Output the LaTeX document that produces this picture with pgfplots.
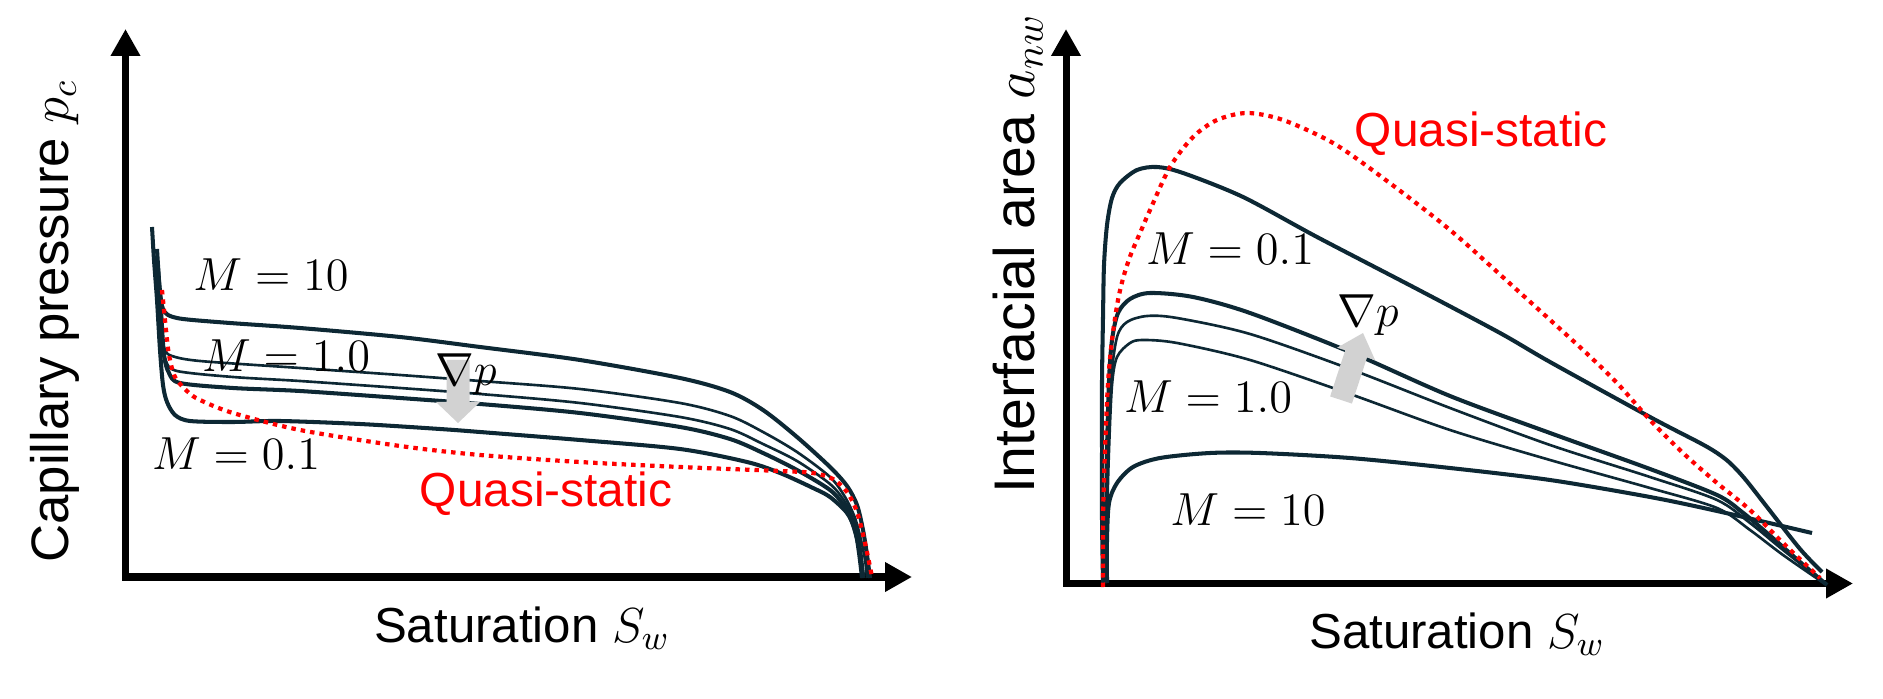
\RequirePackage{fix-cm}
\documentclass[border=0pt]{standalone}
\usepackage{fontspec}
\setmainfont{Liberation Sans}
\usepackage{pgfplots}
\pgfplotsset{compat=1.18}
\usetikzlibrary{arrows.meta}
\definecolor{navy}{RGB}{13,40,52}
\definecolor{arrowgray}{RGB}{210,210,210}
\newcommand{\xlfont}{\fontsize{14}{16}\selectfont}
\newcommand{\ylfontL}{\fontsize{15}{18}\selectfont}
\newcommand{\ylfontR}{\fontsize{16.3}{19}\selectfont}
\newcommand{\qsfont}{\fontsize{13.6}{16}\selectfont}
\newcommand{\mfont}{\fontsize{13.2}{15}\selectfont}
\pgfplotsset{
  panel/.style={scale only axis, hide axis, y dir=reverse, clip=false, anchor=south west},
  thickc/.style={navy, line width=1.15pt, smooth, tension=0.5, no marks, line join=round},
  thinc/.style={navy, line width=0.75pt, smooth, tension=0.5, no marks, line join=round},
  qs/.style={red, line width=1.2pt, dash pattern=on 0.045cm off 0.05cm, smooth, tension=0.5, no marks}
}
\tikzset{axarrow/.style={line width=2pt, line join=miter, {Triangle[width=0.28cm,length=0.27cm]}-{Triangle[width=0.28cm,length=0.27cm]}}}
\begin{document}
\begin{tikzpicture}
\useasboundingbox (0,0) rectangle (18.83cm,6.99cm);
% ---------------- Left panel: capillary pressure ----------------
\begin{axis}[panel, at={(1.255cm,1.22cm)}, width=7.865cm, height=5.48cm,
  xmin=125.5, xmax=912, ymin=29, ymax=577]
\draw[axarrow] (axis cs:125.5,29) -- (axis cs:125.5,577) -- (axis cs:912,577);
% M = 10
\addplot[thickc] coordinates {(157,249) (159,280) (161,300) (163,309) (168,315) (183,319) (230,323) (300,328) (400,337) (480,347) (580,360) (680,378) (730,392) (763,410) (797,437) (830,467) (847,486) (857,505) (863,530) (867,555) (870,578)};
\addplot[thinc] coordinates {(156,256) (159,300) (162,335) (165,350) (172,356) (200,361) (300,368) (400,375) (480,381) (580,389) (680,403) (730,416) (763,432) (797,452) (830,477) (845,497) (855,518) (861,540) (865,560) (867,578)};
\addplot[thinc] coordinates {(157,262) (160,300) (163,340) (166,361) (177,371) (233,377) (300,381) (400,388) (480,394) (580,403) (680,417) (730,429) (763,444) (797,461) (830,484) (845,502) (854,522) (860,545) (864,578)};
\addplot[thickc] coordinates {(158,268) (161,310) (164,355) (169,373) (180,383) (233,388) (300,391) (400,398) (480,404) (580,413) (680,427) (730,439) (763,453) (797,470) (830,490) (845,507) (853,525) (859,548) (863,578)};
% M = 0.1
\addplot[thickc] coordinates {(152,227) (154,260) (157,300) (160,350) (163,385) (167,402) (175,415) (190,421) (233,422) (280,421) (360,424) (440,429) (480,432) (580,440) (680,449) (747,462) (780,473) (813,488) (830,497) (847,513) (855,530) (859,553) (862,578)};
% quasi-static
\addplot[qs] coordinates {(162,290) (164,310) (166,330) (169,355) (175,377) (188,392) (200,400) (233,413) (300,430) (400,446) (480,455) (580,462) (680,467) (780,471) (813,473) (833,479) (847,492) (857,512) (865,543) (872,577)};
\fill[arrowgray] (axis cs:446.5,360) -- (axis cs:469.5,360) -- (axis cs:469.5,402) -- (axis cs:480,402) -- (axis cs:458,423) -- (axis cs:436,402) -- (axis cs:446.5,402) -- cycle;
\node[anchor=base, font=\mfont] at (axis cs:271,290.7) {$M = 10$};
\node[anchor=base, font=\mfont] at (axis cs:286,372) {$M = 1.0$};
\node[anchor=base, font=\mfont] at (axis cs:236,469) {$M = 0.1$};
\node[anchor=base, font=\mfont] at (axis cs:466,386) {$\nabla p$};
\node[anchor=base, font=\qsfont, text=red] at (axis cs:546,506) {Quasi-static};
\node[anchor=base, font=\xlfont] at (axis cs:522,642) {Saturation $S_w$};
\node[anchor=base, rotate=90, font=\ylfontL] at (axis cs:68,321) {Capillary pressure $p_c$};
\end{axis}
% ---------------- Right panel: interfacial area ----------------
\begin{axis}[panel, at={(10.66cm,1.155cm)}, width=7.87cm, height=5.545cm,
  xmin=1066, xmax=1853, ymin=29, ymax=583.5]
\draw[axarrow] (axis cs:1066,29) -- (axis cs:1066,583.5) -- (axis cs:1853,583.5);
% M = 0.1
\addplot[thickc] coordinates {(1103,583) (1102,520) (1102,450) (1102,380) (1103,317) (1104,265) (1107,225) (1112,198) (1120,183) (1137,170) (1157,167) (1183,173) (1243,197) (1317,237) (1417,289) (1500,333) (1550,362) (1650,417) (1700,443) (1717,453) (1730,463) (1745,479) (1767,507) (1800,549) (1822,572)};
\addplot[thickc] coordinates {(1105,583) (1106,520) (1107,450) (1109,380) (1112,340) (1118,313) (1130,299) (1150,293) (1193,297) (1250,313) (1350,352) (1450,396) (1550,433) (1650,469) (1717,495) (1742,512) (1767,533) (1800,562) (1827,585)};
\addplot[thinc] coordinates {(1106,583) (1107,520) (1108,450) (1111,380) (1117,337) (1127,322) (1147,316) (1177,318) (1250,334) (1350,369) (1450,408) (1550,445) (1650,477) (1717,500) (1750,523) (1783,550) (1826,584)};
\addplot[thinc] coordinates {(1106,583) (1107,520) (1109,450) (1112,385) (1117,357) (1130,343) (1143,340) (1177,343) (1250,360) (1350,394) (1450,430) (1550,460) (1650,488) (1717,508) (1750,530) (1783,555) (1825,584)};
% M = 10
\addplot[thickc] coordinates {(1107,583) (1107,540) (1109,503) (1117,483) (1133,467) (1160,458) (1210,453) (1260,453) (1350,458) (1450,468) (1550,480) (1650,497) (1717,511) (1812,533)};
% quasi-static
\addplot[qs] coordinates {(1103,587) (1103,517) (1105,450) (1108,383) (1112,340) (1118,300) (1124,275) (1131,254) (1140,233) (1150,210) (1170,167) (1193,137) (1217,120) (1247,113) (1283,120) (1333,143) (1383,178) (1450,230) (1517,290) (1583,350) (1617,383) (1650,420) (1683,453) (1717,483) (1750,510) (1783,543) (1820,578)};
\fill[arrowgray] (axis cs:1330.1,396.4) -- (axis cs:1351.9,403.6) -- (axis cs:1367.0,357.5) -- (axis cs:1375.1,360.1) -- (axis cs:1363,333) -- (axis cs:1337.1,347.7) -- (axis cs:1345.2,350.3) -- cycle;
\node[anchor=base, font=\mfont] at (axis cs:1230,265) {$M = 0.1$};
\node[anchor=base, font=\mfont] at (axis cs:1208,413) {$M = 1.0$};
\node[anchor=base, font=\mfont] at (axis cs:1248,525) {$M = 10$};
\node[anchor=base, font=\mfont] at (axis cs:1368,327) {$\nabla p$};
\node[anchor=base, font=\qsfont, text=red] at (axis cs:1481,147) {Quasi-static};
\node[anchor=base, font=\xlfont] at (axis cs:1457,648) {Saturation $S_w$};
\node[anchor=base, rotate=90, font=\ylfontR] at (axis cs:1034,254) {Interfacial area $a_{nw}$};
\end{axis}
\end{tikzpicture}
\end{document}
